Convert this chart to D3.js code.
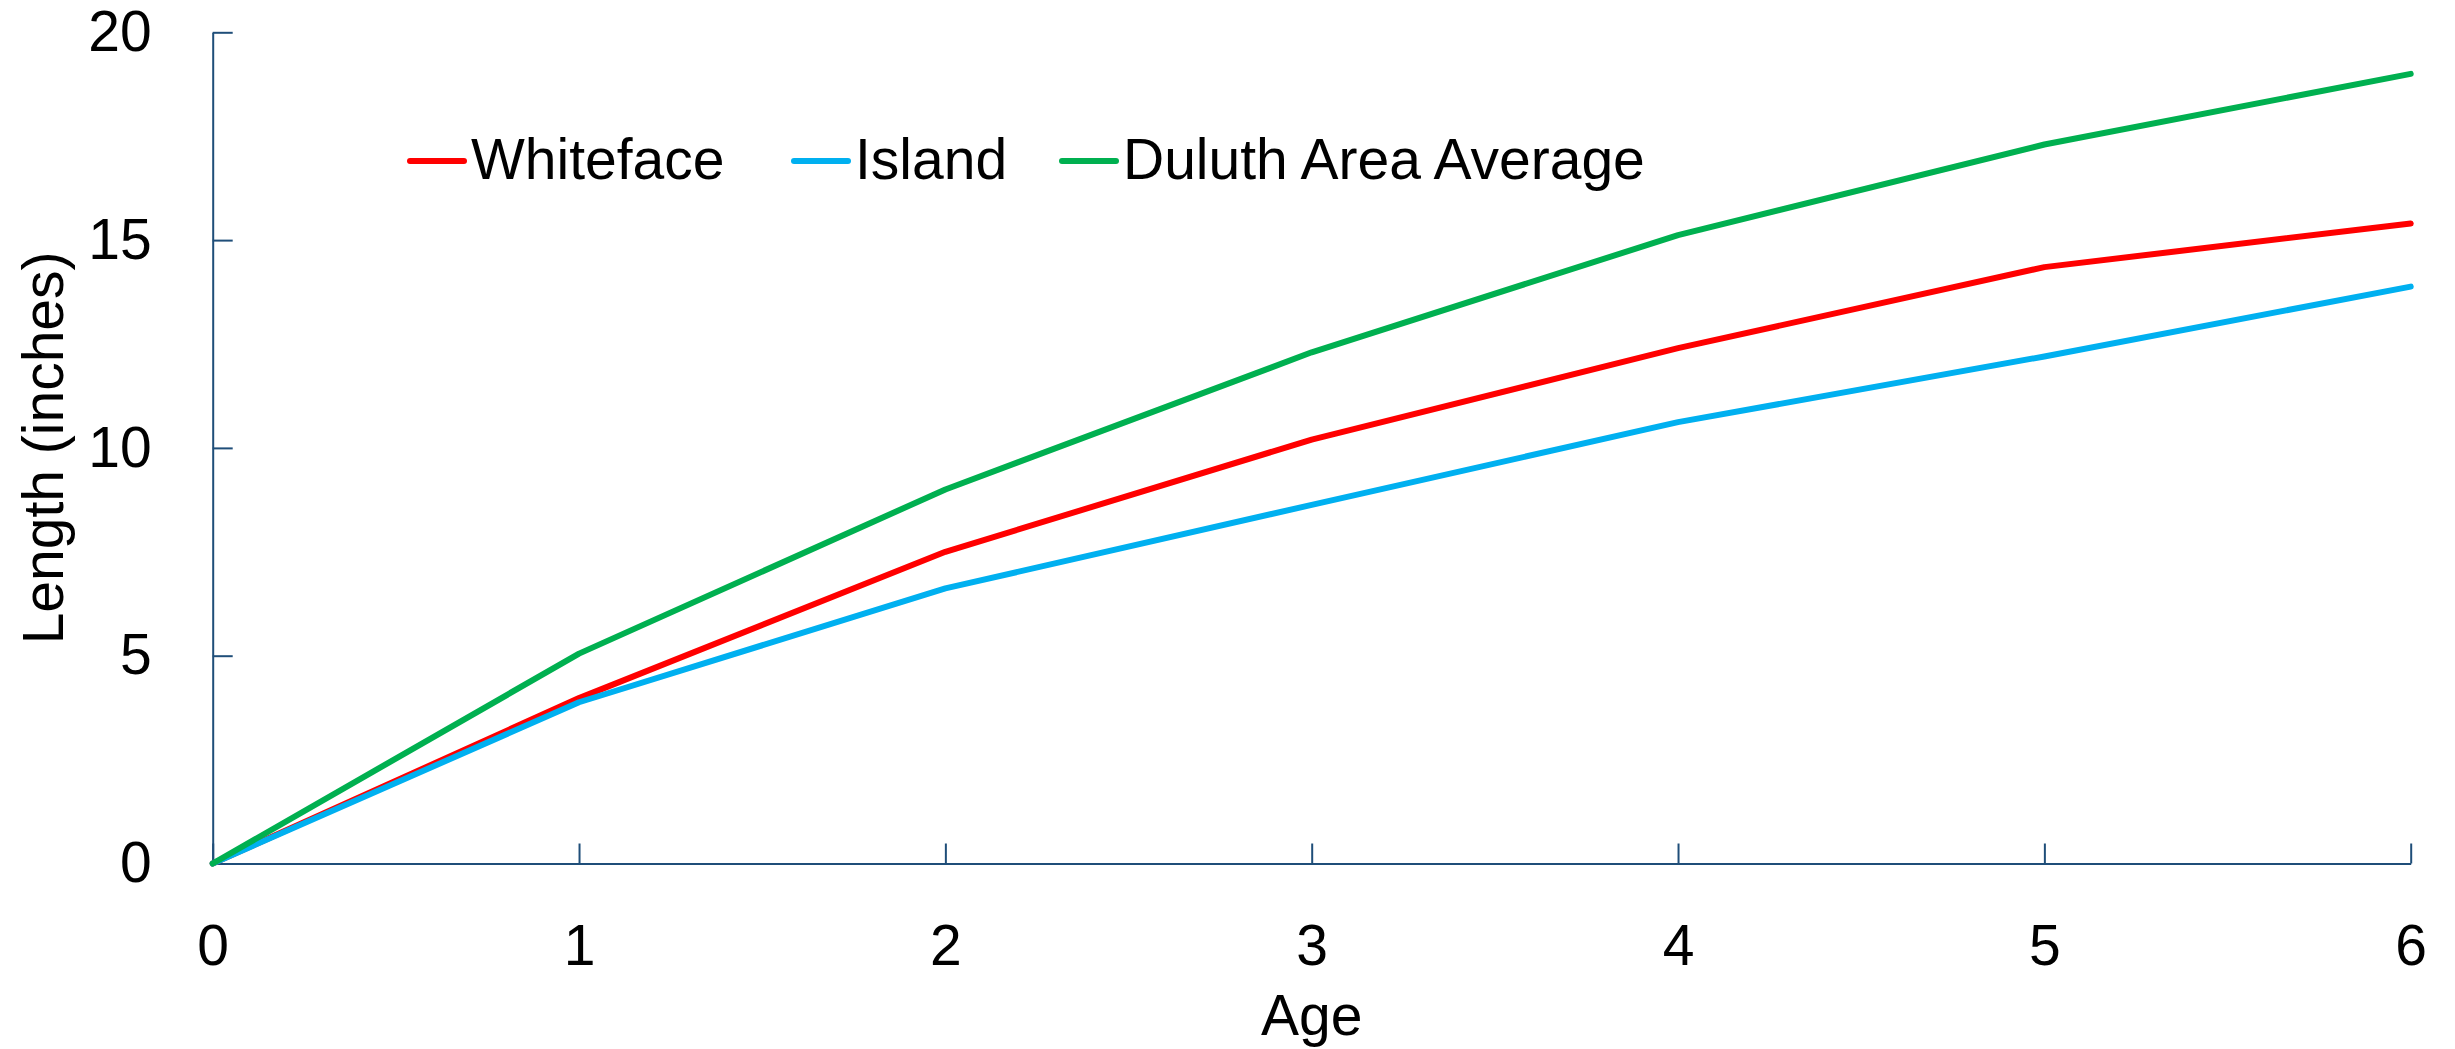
<!DOCTYPE html>
<html>
<head>
<meta charset="utf-8">
<script src="https://cdn.jsdelivr.net/npm/d3@7"></script>
<style>
  body { margin: 0; background: #fff; }
  text { font-family: "Liberation Sans", Arial, sans-serif; }
</style>
</head>
<body>
<svg id="chart"></svg>
<script>
// data
var ages = [0, 1, 2, 3, 4, 5, 6];
var whiteface = [0, 3.98, 7.5, 10.2, 12.4, 14.35, 15.4];
var island = [0, 3.88, 6.62, 8.63, 10.62, 12.2, 13.88];
var duluth = [0, 5.05, 9.0, 12.3, 15.12, 17.3, 19.0];
var yTicks = [0, 5, 10, 15, 20];
var seriesNames = ['Whiteface', 'Island', 'Duluth Area Average'];
var seriesColors = ['#FF0000', '#00B0F0', '#00B050'];

var svgWidth = 2455, svgHeight = 1049;
var plotLeft = 212.7, plotRight = 2410.7, plotTop = 32.3, plotBottom = 863.5;
var fontSize = 57, axisColor = '#1F4E79';

var svg = d3.select('#chart')
  .attr('width', svgWidth)
  .attr('height', svgHeight);

var xScale = d3.scaleLinear()
  .domain([0, 6])
  .range([plotLeft, plotRight]);

var yScale = d3.scaleLinear()
  .domain([0, 20])
  .range([plotBottom, plotTop]);

// axes, ticks point inward
var xAxis = svg.append('g')
  .attr('transform', 'translate(0,' + plotBottom + ')')
  .call(d3.axisBottom(xScale).tickValues(ages).tickFormat(d3.format('d'))
    .tickSizeInner(-20).tickSizeOuter(0).tickPadding(61));

var yAxis = svg.append('g')
  .attr('transform', 'translate(' + plotLeft + ',0)')
  .call(d3.axisLeft(yScale).tickValues(yTicks).tickFormat(d3.format('d'))
    .tickSizeInner(-20).tickSizeOuter(0).tickPadding(61));

[xAxis, yAxis].forEach(function(ax) {
  ax.selectAll('path, line')
    .attr('stroke', axisColor)
    .attr('stroke-width', 2);
  ax.selectAll('text')
    .attr('fill', '#000')
    .style('font-size', fontSize + 'px')
    .style('font-family', '"Liberation Sans", Arial, sans-serif');
});

// axis titles
svg.append('text')
  .attr('x', xScale(3))
  .attr('y', 1035)
  .attr('text-anchor', 'middle')
  .style('font-size', fontSize + 'px')
  .text('Age');

svg.append('text')
  .attr('transform', 'translate(63,' + ((plotTop + plotBottom) / 2) + ') rotate(-90)')
  .attr('text-anchor', 'middle')
  .style('font-size', fontSize + 'px')
  .text('Length (inches)');

// lines
var allSeries = [whiteface, island, duluth];

var line = d3.line()
  .x(function(d, i) { return xScale(ages[i]); })
  .y(function(d) { return yScale(d); });

svg.selectAll('path.series')
  .data(allSeries)
  .enter()
  .append('path')
  .attr('class', 'series')
  .attr('fill', 'none')
  .attr('stroke', function(d, i) { return seriesColors[i]; })
  .attr('stroke-width', 6)
  .attr('stroke-linecap', 'round')
  .attr('stroke-linejoin', 'round')
  .attr('d', line);

// legend
var legendX = [410, 794, 1062];
var legendY = 161;

var legend = svg.selectAll('g.legend')
  .data(seriesNames)
  .enter()
  .append('g')
  .attr('class', 'legend')
  .attr('transform', function(d, i) {
    return 'translate(' + legendX[i] + ',' + legendY + ')';
  });

legend.append('line')
  .attr('x1', 0)
  .attr('x2', 54)
  .attr('stroke', function(d, i) { return seriesColors[i]; })
  .attr('stroke-width', 6)
  .attr('stroke-linecap', 'round');

legend.append('text')
  .attr('x', 61)
  .attr('y', 18)
  .style('font-size', fontSize + 'px')
  .text(function(d) { return d; });
</script>
</body>
</html>
